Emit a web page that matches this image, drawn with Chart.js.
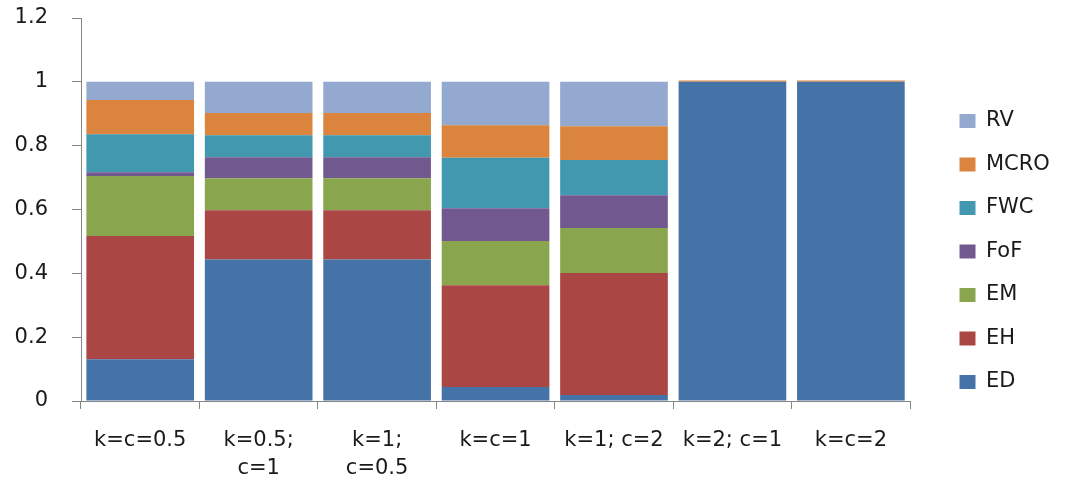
<!DOCTYPE html>
<html>
<head>
<meta charset="utf-8">
<script src="https://cdn.jsdelivr.net/npm/chart.js@4.4.0/dist/chart.umd.min.js"></script>
<style>
  html, body { margin: 0; padding: 0; background: #ffffff; }
  canvas { display: block; }
</style>
</head>
<body>
<canvas id="chart" width="1066" height="480"></canvas>
<script>
// Parameter settings on the x axis
const categories = [
  'k=c=0.5',
  ['k=0.5;', 'c=1'],
  ['k=1;', 'c=0.5'],
  'k=c=1',
  'k=1; c=2',
  'k=2; c=1',
  'k=c=2'
];

// Share of each component per setting (stacked bottom to top)
const ED   = [0.131, 0.443, 0.443, 0.044, 0.019, 1.000, 1.000];
const EH   = [0.386, 0.155, 0.155, 0.319, 0.382, 0,     0];
const EM   = [0.188, 0.100, 0.100, 0.138, 0.141, 0,     0];
const FoF  = [0.012, 0.066, 0.066, 0.103, 0.103, 0,     0];
const FWC  = [0.119, 0.069, 0.069, 0.158, 0.110, 0,     0];
const MCRO = [0.107, 0.069, 0.069, 0.102, 0.106, 0.004, 0.004];
const RV   = [0.057, 0.098, 0.098, 0.136, 0.139, 0,     0];

const yTickLabels = ['0', '0.2', '0.4', '0.6', '0.8', '1', '1.2'];

const seriesNames  = ['ED', 'EH', 'EM', 'FoF', 'FWC', 'MCRO', 'RV'];
const seriesValues = [ED, EH, EM, FoF, FWC, MCRO, RV];
const seriesColors = ['#4572A7', '#AA4643', '#89A54E', '#71588F', '#4198AF', '#DB843D', '#93A9CF'];

const FONT = "'DejaVu Sans', sans-serif";
const AXIS = '#868686';
const TEXT = '#1a1a1a';

// Places the legend column in the right-hand margin
const legendPlacement = {
  id: 'legendPlacement',
  afterLayout(chart) {
    const lg = chart.legend;
    const w = lg.width, h = lg.height;
    lg.left = 937; lg.right = lg.left + w;
    lg.top = 88;   lg.bottom = lg.top + h;
  }
};

new Chart(document.getElementById('chart'), {
  type: 'bar',
  data: {
    labels: categories,
    datasets: seriesNames.map((name, i) => ({
      label: name,
      data: seriesValues[i],
      backgroundColor: seriesColors[i],
      borderWidth: 0,
      barPercentage: 0.909,
      categoryPercentage: 1.0
    }))
  },
  options: {
    responsive: false,
    animation: false,
    layout: { padding: { top: 6, right: 33, bottom: 0, left: 0 } },
    plugins: {
      tooltip: { enabled: false },
      legend: {
        position: 'right',
        align: 'start',
        reverse: true,
        labels: {
          boxWidth: 16,
          boxHeight: 14,
          padding: 22.5,
          color: TEXT,
          font: { family: FONT, size: 21 }
        }
      }
    },
    scales: {
      x: {
        stacked: true,
        afterFit(scale) { scale.height = 79; },
        grid: {
          offset: true,
          drawOnChartArea: false,
          drawTicks: true,
          tickLength: 8,
          color: AXIS
        },
        border: { display: true, color: AXIS, width: 1 },
        ticks: {
          color: TEXT,
          padding: 17,
          maxRotation: 0,
          autoSkip: false,
          font: { family: FONT, size: 21, lineHeight: 1.34 }
        }
      },
      y: {
        stacked: true,
        min: 0,
        max: 1.2,
        afterFit(scale) { scale.width = 81; scale.paddingTop = 18; },
        grid: {
          drawOnChartArea: false,
          drawTicks: true,
          tickLength: 9,
          color: AXIS
        },
        border: { display: true, color: AXIS, width: 1 },
        ticks: {
          stepSize: 0.2,
          padding: 24,
          color: TEXT,
          font: { family: FONT, size: 21 },
          callback: (value, index) => yTickLabels[index]
        }
      }
    }
  },
  plugins: [legendPlacement]
});
</script>
</body>
</html>
